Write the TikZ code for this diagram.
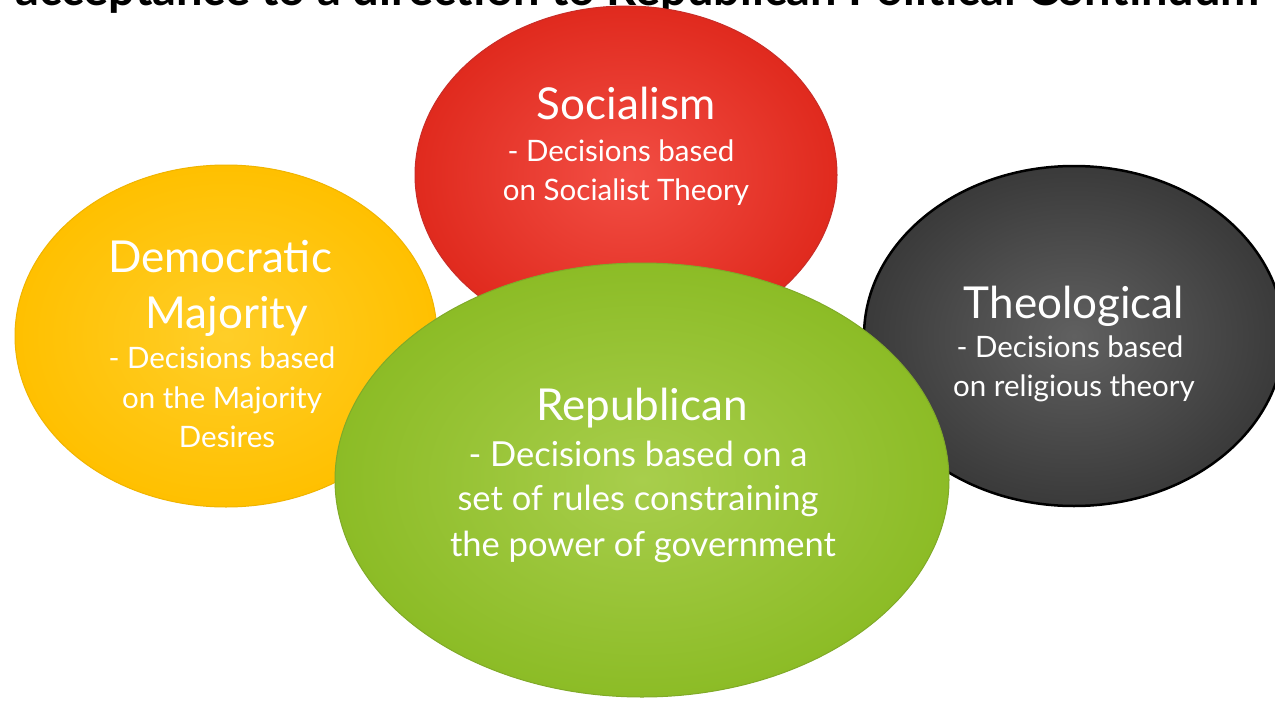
\documentclass[tikz,border=0pt]{standalone}
\usepackage{fontspec}
\setmainfont{Lato}
\usetikzlibrary{shapes.geometric}
\tikzset{
  bubble/.style={ellipse, inner sep=0pt},
  head/.style={anchor=base, text=white, inner sep=0pt, font=\fontsize{44}{44}\selectfont},
  body/.style={anchor=base, text=white, inner sep=0pt, font=\fontsize{29.5}{30}\selectfont},
  rbody/.style={anchor=base, text=white, inner sep=0pt, font=\fontsize{34.5}{35}\selectfont},
}
\begin{document}
\begin{tikzpicture}[x=1pt,y=-1pt]
\clip (0,0) rectangle (1275,715);
\fill[white] (0,0) rectangle (1275,715);
% title (cut off at the top)
\node[anchor=base west, inner sep=0pt, font=\fontsize{47}{47}\selectfont\bfseries] (title) at (15,5) {acceptance to a direction to Republican Political Continuum};
% bubbles
\node[bubble, minimum width=422pt, minimum height=338pt, inner color={rgb,255:red,242;green,78;blue,68}, outer color={rgb,255:red,224;green,42;blue,30}, draw={rgb,255:red,200;green,45;blue,40}, line width=1pt] (soc) at (626,175) {};
\node[bubble, minimum width=422pt, minimum height=342pt, inner color={rgb,255:red,255;green,206;blue,40}, outer color={rgb,255:red,255;green,192;blue,0}, draw={rgb,255:red,240;green,180;blue,0}, line width=1pt] (dem) at (226,336) {};
\node[bubble, minimum width=420pt, minimum height=340pt, inner color={rgb,255:red,96;green,96;blue,96}, outer color={rgb,255:red,58;green,58;blue,58}, draw=black, line width=2.5pt] (the) at (1074,336) {};
\node[bubble, minimum width=614pt, minimum height=434pt, inner color={rgb,255:red,168;green,206;blue,76}, outer color={rgb,255:red,140;green,188;blue,38}, draw={rgb,255:red,128;green,170;blue,40}, line width=1pt] (rep) at (642,480) {};
% texts
\node[head] (soc-h) at (626,119) {Socialism};
\node[body] (soc-1) at (621,161) {- Decisions based};
\node[body] (soc-2) at (626,200) {on Socialist Theory};

\node[head] (dem-h1) at (220,272) {Democratic};
\node[head] (dem-h2) at (227,328) {Majority};
\node[body] (dem-1) at (222,368) {- Decisions based};
\node[body] (dem-2) at (222,408) {on the Majority};
\node[body] (dem-3) at (227,447) {Desires};

\node[head] (the-h) at (1074,318) {Theological};
\node[body] (the-1) at (1070,357) {- Decisions based};
\node[body] (the-2) at (1074,396) {on religious theory};

\node[head] (rep-h) at (642,420) {Republican};
\node[rbody] (rep-1) at (638,466) {- Decisions based on a};
\node[rbody] (rep-2) at (638,510) {set of rules constraining};
\node[rbody] (rep-3) at (643,556) {the power of government};
\end{tikzpicture}
\end{document}
